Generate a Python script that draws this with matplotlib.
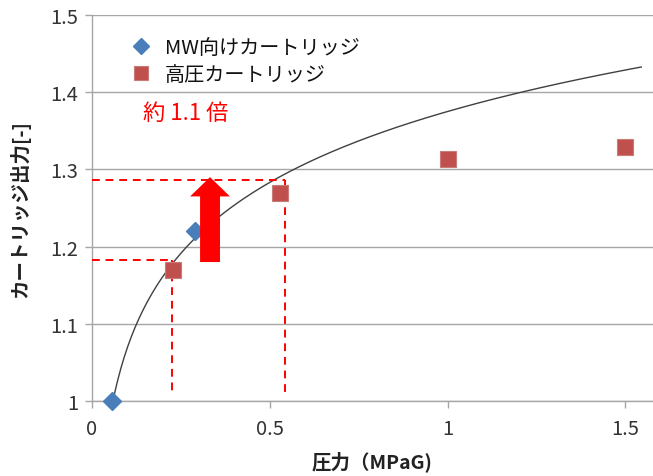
import numpy as np
import matplotlib
matplotlib.use('Agg')
import matplotlib.pyplot as plt
from matplotlib.patches import FancyArrow

plt.rcParams['font.family'] = ['Noto Sans CJK JP', 'DejaVu Sans']

# data
mw_x = [0.056, 0.29]
mw_y = [1.0, 1.22]
hp_x = [0.228, 0.529, 1.0, 1.5]
hp_y = [1.170, 1.269, 1.313, 1.329]

# logarithmic trend line y = a*ln(x) + b
trend_a = 0.1325
trend_b = 1.375
trend_x0, trend_x1 = 0.056, 1.545

# red guide lines
low_level, high_level = 1.183, 1.286
low_x, high_x = 0.226, 0.543
guide_bottom = 1.012

xticks = [0, 0.5, 1, 1.5]
xticklabels = ['0', '0.5', '1', '1.5']
yticks = [1.0, 1.1, 1.2, 1.3, 1.4, 1.5]
yticklabels = ['1', '1.1', '1.2', '1.3', '1.4', '1.5']

grey = '#a6a6a6'
txt = '#333333'

fig = plt.figure(figsize=(6.53, 4.77), dpi=100)
ax = fig.add_axes([92 / 653, 1 - 402 / 477, 1 - 92 / 653, (402 - 16) / 477])

ax.set_xlim(0, 1.578)
ax.set_ylim(1.0, 1.5)
ax.set_xticks(xticks)
ax.set_xticklabels(xticklabels)
ax.set_yticks(yticks)
ax.set_yticklabels(yticklabels)
ax.grid(axis='y', color=grey, lw=1.0)
ax.set_axisbelow(True)
for s in ['top', 'right']:
    ax.spines[s].set_visible(False)
for s in ['left', 'bottom']:
    ax.spines[s].set_color(grey)
    ax.spines[s].set_linewidth(1.0)
ax.tick_params(axis='both', colors=grey, labelcolor=txt, labelsize=14.5,
               length=5, width=1.0)
ax.tick_params(axis='x', pad=7)
ax.tick_params(axis='y', pad=5)

# trend line
tx = np.linspace(trend_x0, trend_x1, 300)
ax.plot(tx, trend_a * np.log(tx) + trend_b, color='#404040', lw=1.0, zorder=3)

# guide lines
dash = dict(color='#ff0000', lw=1.4, ls=(0, (4, 3)), zorder=4)
ax.plot([0, low_x], [low_level, low_level], **dash)
ax.plot([low_x, low_x], [low_level, guide_bottom], **dash)
ax.plot([0, high_x], [high_level, high_level], **dash)
ax.plot([high_x, high_x], [high_level, guide_bottom], **dash)

# markers
ax.plot(mw_x, mw_y, 'D', color='#4a7ebb', ms=9, ls='none', zorder=5,
        label='MW向けカートリッジ', clip_on=False)
ax.plot(hp_x, hp_y, 's', color='#c0504d', mec='#c87c7a', mew=0.8, ms=11.5,
        ls='none', zorder=5, label='高圧カートリッジ')

# arrow
ax.add_patch(FancyArrow(0.332, 1.180, 0, 0.110, width=0.056, head_width=0.112,
                        head_length=0.025, length_includes_head=True,
                        color='#ff0000', lw=0, zorder=6))

ax.text(0.143, 1.374, '約 1.1 倍', color='#ff0000', fontsize=16,
        va='center', ha='left')

leg = ax.legend(loc='upper left', bbox_to_anchor=(0.055, 0.965), frameon=False,
                fontsize=14.5, handletextpad=0.7, labelspacing=0.3,
                borderaxespad=0, handlelength=1.0, markerscale=0.85)
for t in leg.get_texts():
    t.set_color('#111111')

ax.set_xlabel('圧力（MPaG)', fontsize=14, fontweight='bold', color='#222222',
              labelpad=8)
ax.set_ylabel('カートリッジ出力[-]', fontsize=14, fontweight='bold',
              color='#222222', labelpad=14)

fig.savefig('out.png', dpi=100)
